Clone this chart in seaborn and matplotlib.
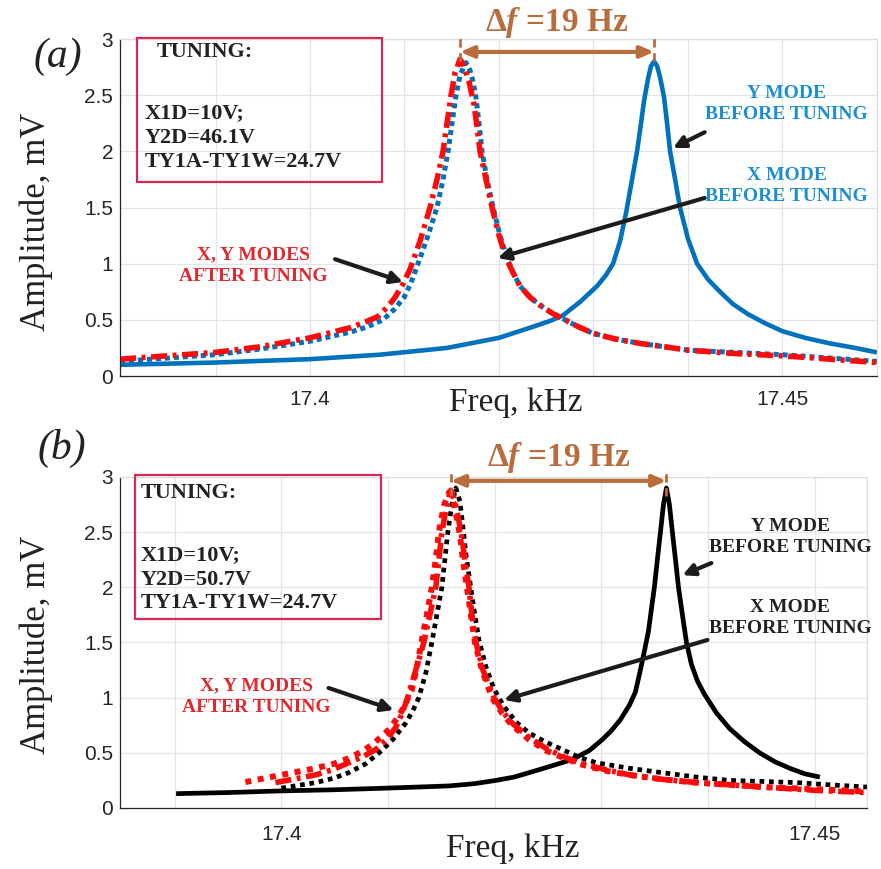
import numpy as np
import matplotlib
matplotlib.use("Agg")
import matplotlib.pyplot as plt
import seaborn as sns
from matplotlib.patches import Rectangle

# ---------------- panel (a): simulated responses (kHz, mV) ----------------
a_y_before_f = [17.37987, 17.38994, 17.40000, 17.40742, 17.41451, 17.42002, 17.42331, 17.42542,
                17.42680, 17.42860, 17.43040, 17.43136, 17.43210, 17.43284, 17.43347, 17.43411,
                17.43464, 17.43506, 17.43538, 17.43581, 17.43612, 17.43644, 17.43676, 17.43708,
                17.43750, 17.43782, 17.43814, 17.43867, 17.43919, 17.44004, 17.44100, 17.44216,
                17.44343, 17.44481, 17.44640, 17.44820, 17.45000, 17.45244, 17.45508, 17.45773,
                17.46006]
a_y_before_amp = [0.10, 0.12, 0.15, 0.19, 0.25, 0.34, 0.43, 0.49, 0.54, 0.66, 0.80, 0.90, 1.00,
                  1.20, 1.45, 1.75, 2.00, 2.25, 2.45, 2.65, 2.76, 2.80, 2.76, 2.66, 2.48, 2.25,
                  2.00, 1.75, 1.50, 1.22, 1.00, 0.86, 0.75, 0.64, 0.55, 0.47, 0.40, 0.34, 0.29,
                  0.25, 0.21]

a_after_f = [17.37987, 17.38994, 17.39470, 17.40000, 17.40424, 17.40583, 17.40720, 17.40826,
             17.40900, 17.40985, 17.41059, 17.41165, 17.41271, 17.41345, 17.41409, 17.41451,
             17.41494, 17.41536, 17.41589, 17.41631, 17.41684, 17.41737, 17.41769, 17.41801,
             17.41864, 17.41928, 17.42002, 17.42076, 17.42150, 17.42225, 17.42331, 17.42436,
             17.42564, 17.42701, 17.42839, 17.42998, 17.43231, 17.43496, 17.43761, 17.44004,
             17.44502, 17.45000, 17.45508, 17.46006]
a_after_amp = [0.15, 0.21, 0.26, 0.34, 0.43, 0.48, 0.53, 0.62, 0.70, 0.82, 0.95, 1.20, 1.50,
               1.75, 2.00, 2.25, 2.50, 2.70, 2.82, 2.76, 2.62, 2.42, 2.22, 2.00, 1.75, 1.50,
               1.25, 1.05, 0.92, 0.80, 0.70, 0.63, 0.56, 0.50, 0.44, 0.38, 0.33, 0.29, 0.26,
               0.23, 0.20, 0.18, 0.15, 0.12]

a_x_mode_f = [17.37987, 17.38994, 17.39470, 17.40000, 17.40424, 17.40614, 17.40773, 17.40900,
              17.40996, 17.41070, 17.41144, 17.41250, 17.41345, 17.41409, 17.41462, 17.41504,
              17.41547, 17.41589, 17.41653, 17.41695, 17.41727, 17.41758, 17.41790, 17.41822,
              17.41875, 17.41939, 17.42013, 17.42087, 17.42150, 17.42225, 17.42331, 17.42436,
              17.42564, 17.42701, 17.42839, 17.42998, 17.43231, 17.43496, 17.43761, 17.44004,
              17.44502, 17.45000, 17.45508, 17.46006]
a_x_mode_amp = [0.13, 0.19, 0.24, 0.31, 0.39, 0.44, 0.50, 0.60, 0.70, 0.83, 1.00, 1.25, 1.50,
                1.75, 2.00, 2.25, 2.50, 2.68, 2.79, 2.72, 2.62, 2.48, 2.25, 2.00, 1.75, 1.50,
                1.25, 1.05, 0.92, 0.80, 0.70, 0.63, 0.56, 0.50, 0.44, 0.38, 0.33, 0.29, 0.26,
                0.23, 0.21, 0.19, 0.16, 0.13]

# ---------------- panel (b): measured responses (kHz, mV) ----------------
b_y_before_f = [17.39013, 17.39502, 17.40000, 17.40489, 17.40987, 17.41570, 17.41805, 17.42011,
                17.42180, 17.42321, 17.42528, 17.42726, 17.42885, 17.43008, 17.43092, 17.43177,
                17.43261, 17.43318, 17.43365, 17.43402, 17.43440, 17.43468, 17.43496, 17.43524,
                17.43553, 17.43581, 17.43609, 17.43637, 17.43665, 17.43694, 17.43722, 17.43759,
                17.43797, 17.43844, 17.43900, 17.43966, 17.44079, 17.44201, 17.44342, 17.44483,
                17.44624, 17.44765, 17.44906, 17.45047]
b_y_before_amp = [0.13, 0.14, 0.155, 0.165, 0.18, 0.20, 0.22, 0.25, 0.28, 0.32, 0.38, 0.44,
                  0.52, 0.62, 0.70, 0.80, 0.93, 1.05, 1.25, 1.42, 1.60, 1.80, 2.00, 2.25, 2.50,
                  2.75, 2.90, 2.75, 2.50, 2.25, 2.00, 1.75, 1.50, 1.30, 1.15, 1.03, 0.86, 0.72,
                  0.60, 0.50, 0.42, 0.36, 0.31, 0.28]

b_x_before_f = [17.40000, 17.40320, 17.40489, 17.40630, 17.40789, 17.40940, 17.41053, 17.41165,
                17.41231, 17.41288, 17.41353, 17.41410, 17.41457, 17.41504, 17.41532, 17.41560,
                17.41598, 17.41635, 17.41673, 17.41701, 17.41729, 17.41767, 17.41805, 17.41852,
                17.41917, 17.41992, 17.42086, 17.42199, 17.42321, 17.42472, 17.42632, 17.42791,
                17.42951, 17.43261, 17.43571, 17.43891, 17.44201, 17.44530, 17.44831, 17.45141,
                17.45489]
b_x_before_amp = [0.18, 0.23, 0.27, 0.32, 0.40, 0.52, 0.63, 0.77, 0.88, 1.00, 1.22, 1.50, 1.75,
                  2.00, 2.25, 2.50, 2.75, 2.90, 2.78, 2.55, 2.30, 2.05, 1.80, 1.52, 1.28, 1.08,
                  0.92, 0.78, 0.68, 0.60, 0.53, 0.46, 0.41, 0.36, 0.32, 0.28, 0.25, 0.24, 0.23,
                  0.21, 0.19]

b_x_after_f = [17.39662, 17.40000, 17.40320, 17.40489, 17.40630, 17.40771, 17.40883, 17.40996,
               17.41100, 17.41165, 17.41222, 17.41269, 17.41316, 17.41363, 17.41410, 17.41447,
               17.41476, 17.41523, 17.41570, 17.41617, 17.41645, 17.41673, 17.41701, 17.41739,
               17.41776, 17.41814, 17.41880, 17.41974, 17.42068, 17.42162, 17.42321, 17.42481,
               17.42632, 17.42791, 17.43026, 17.43261, 17.43571, 17.43891, 17.44201, 17.44511,
               17.45000, 17.45489]
b_x_after_amp = [0.235, 0.30, 0.36, 0.40, 0.45, 0.52, 0.60, 0.70, 0.83, 0.95, 1.07, 1.27, 1.52,
                 1.75, 2.00, 2.25, 2.50, 2.74, 2.86, 2.76, 2.62, 2.48, 2.25, 2.00, 1.75, 1.50,
                 1.25, 1.00, 0.86, 0.75, 0.62, 0.52, 0.46, 0.40, 0.34, 0.30, 0.26, 0.23, 0.21,
                 0.19, 0.17, 0.15]

b_y_after_f = [17.39944, 17.40320, 17.40489, 17.40630, 17.40771, 17.40883, 17.40987, 17.41071,
               17.41128, 17.41184, 17.41259, 17.41335, 17.41391, 17.41447, 17.41476, 17.41504,
               17.41551, 17.41588, 17.41626, 17.41664, 17.41692, 17.41720, 17.41758, 17.41786,
               17.41823, 17.41889, 17.41992, 17.42077, 17.42162, 17.42321, 17.42481, 17.42632,
               17.42791, 17.43026, 17.43261, 17.43571, 17.43891, 17.44201, 17.44511, 17.45000,
               17.45489]
b_y_after_amp = [0.23, 0.30, 0.35, 0.41, 0.47, 0.53, 0.62, 0.73, 0.85, 1.00, 1.25, 1.50, 1.75,
                 2.00, 2.25, 2.50, 2.75, 2.88, 2.78, 2.60, 2.45, 2.25, 2.00, 1.75, 1.50, 1.25,
                 1.00, 0.87, 0.77, 0.64, 0.54, 0.47, 0.41, 0.35, 0.30, 0.26, 0.23, 0.21, 0.19,
                 0.16, 0.14]

x_ticks = [17.39, 17.40, 17.41, 17.42, 17.43, 17.44, 17.45]
x_tick_labels = ["", "17.4", "", "", "", "", "17.45"]
y_ticks = [0, 0.5, 1, 1.5, 2, 2.5, 3]
y_tick_labels = ["0", "0.5", "1", "1.5", "2", "2.5", "3"]

tuning_a = ["TUNING:", "X1D=10V;", "Y2D=46.1V", "TY1A-TY1W=24.7V"]
tuning_b = ["TUNING:", "X1D=10V;", "Y2D=50.7V", "TY1A-TY1W=24.7V"]
delta_label = r"$\mathbf{\Delta}\mathit{f}$ =19 Hz"

# ---------------- style ----------------
sns.set_style("white")
plt.rcParams["font.family"] = ["Liberation Sans", "DejaVu Sans"]
plt.rcParams["mathtext.fontset"] = "custom"
plt.rcParams["mathtext.rm"] = "Liberation Serif:bold"
plt.rcParams["mathtext.bf"] = "Liberation Serif:bold"
plt.rcParams["mathtext.it"] = "Liberation Serif:italic:bold"

SERIF = ["Liberation Serif", "DejaVu Serif"]
BLUE = "#0072BD"
BLUE_TXT = "#1b8fd2"
RED = "#ff0a0a"
RED_TXT = "#e0282e"
BROWN = "#b96d3d"
BOX = "#d42a5a"
ARROW = "#1c1c1c"
AX = "#262626"

fig = plt.figure(figsize=(8.81, 8.69), dpi=100)
ax1 = fig.add_axes([0.1362, 0.5673, 0.8593, 0.3878])
ax2 = fig.add_axes([0.1362, 0.0702, 0.8479, 0.3809])


def style_axes(ax, xlim, xpad):
    ax.set_xlim(*xlim)
    ax.set_ylim(0, 3)
    ax.set_xticks(x_ticks)
    ax.set_xticklabels(x_tick_labels)
    ax.set_yticks(y_ticks)
    ax.set_yticklabels(y_tick_labels)
    ax.grid(True, color="#e4e4e4", lw=0.9)
    ax.set_axisbelow(True)
    for s in ("left", "bottom"):
        ax.spines[s].set_color(AX)
        ax.spines[s].set_linewidth(0.9)
    for s in ("top", "right"):
        ax.spines[s].set_color("#dedede")
        ax.spines[s].set_linewidth(0.9)
    ax.tick_params(axis="both", direction="in", length=6, width=0.9, color=AX,
                   labelcolor=AX, labelsize=15)
    ax.tick_params(axis="x", pad=xpad)
    ax.tick_params(axis="y", pad=5)
    ax.set_xlabel("")
    ax.set_ylabel("")


def curve(ax, f, amp, color, lw, ls):
    sns.lineplot(x=f, y=amp, ax=ax, color=color, lw=lw, estimator=None, sort=False)
    line = ax.get_lines()[-1]
    if ls is not None:
        line.set_dashes(ls)
    line.set_solid_capstyle("butt")
    line.set_solid_joinstyle("round")
    return line


def arrow(ax, tail, head):
    ax.annotate("", xy=head, xytext=tail, xycoords="data", textcoords="data",
                arrowprops=dict(arrowstyle="-|>,head_length=0.7,head_width=0.35",
                                color=ARROW, lw=3.0, shrinkA=0, shrinkB=0),
                annotation_clip=False)


def tuning_box(ax, x0, x1, y0, y1, lines, xs, ys):
    ax.add_patch(Rectangle((x0, y0), x1 - x0, y1 - y0, fill=False, ec=BOX, lw=1.6,
                           clip_on=False, zorder=5))
    for txt, xx, yy in zip(lines, xs, ys):
        ax.text(xx, yy, txt, family=SERIF, weight="bold", fontsize=16, color="#222222",
                ha="left", va="center", clip_on=False, zorder=6)


def delta_marker(ax, f_left, f_right, y_arrow, y_top, y_bot, y_text):
    for fx_ in (f_left, f_right):
        ax.plot([fx_, fx_], [y_bot, y_top], color=BROWN, lw=2.0, dashes=(3, 2),
                clip_on=False, zorder=6)
    ax.annotate("", xy=(f_right, y_arrow), xytext=(f_left, y_arrow),
                arrowprops=dict(arrowstyle="<|-|>,head_length=0.8,head_width=0.35",
                                color=BROWN, lw=3.0, shrinkA=0, shrinkB=0),
                annotation_clip=False, zorder=6)
    ax.text((f_left + f_right) / 2, y_text, delta_label, color=BROWN, fontsize=24,
            weight="bold", family=SERIF, ha="center", va="center", clip_on=False)


def note(ax, x, y, txt, color):
    ax.text(x, y, txt, color=color, family=SERIF, weight="bold", fontsize=14,
            ha="center", va="center", linespacing=1.35)


# ---------------- panel (a) ----------------
style_axes(ax1, (17.37987, 17.46006), 10)
curve(ax1, a_y_before_f, a_y_before_amp, BLUE, 3.3, None)
curve(ax1, a_x_mode_f, a_x_mode_amp, BLUE, 3.6, (1.0, 0.8))
curve(ax1, a_after_f, a_after_amp, RED, 4.0, (2.9, 1.0, 0.7, 1.0))

pk_after_a = a_after_f[int(np.argmax(a_after_amp))]
pk_y_a = a_y_before_f[int(np.argmax(a_y_before_amp))]
delta_marker(ax1, pk_after_a, pk_y_a, 2.885, 3.02, 2.80, 3.15)

tuning_box(ax1, 17.38167, 17.40763, 1.727, 3.005, tuning_a,
           [17.3838, 17.38252, 17.38252, 17.38252], [2.885, 2.342, 2.119, 1.906])

note(ax1, 17.4505, 2.42, "Y MODE\nBEFORE TUNING", BLUE_TXT)
note(ax1, 17.4505, 1.69, "X MODE\nBEFORE TUNING", BLUE_TXT)
note(ax1, 17.394, 0.98, "X, Y MODES\nAFTER TUNING", RED_TXT)
arrow(ax1, (17.4418, 2.17), (17.43845, 2.03))
arrow(ax1, (17.4418, 1.585), (17.41987, 1.05))
arrow(ax1, (17.40265, 1.04), (17.40985, 0.837))

# ---------------- panel (b) ----------------
style_axes(ax2, (17.38487, 17.45489), 12)
curve(ax2, b_y_before_f, b_y_before_amp, "black", 3.4, None)
curve(ax2, b_x_before_f, b_x_before_amp, "black", 3.4, (1.0, 1.0))
curve(ax2, b_x_after_f, b_x_after_amp, RED, 4.3, (1.0, 1.1))
curve(ax2, b_y_after_f, b_y_after_amp, RED, 4.0, (2.9, 1.0, 0.7, 1.0))

pk_after_b = b_y_after_f[int(np.argmax(b_y_after_amp))]
pk_y_b = b_y_before_f[int(np.argmax(b_y_before_amp))]
delta_marker(ax2, pk_after_b, pk_y_b, 2.965, 3.06, 2.83, 3.18)

tuning_box(ax2, 17.38628, 17.4093, 1.713, 3.019, tuning_b,
           [17.38684] * 4, [2.856, 2.294, 2.067, 1.859])

note(ax2, 17.4477, 2.457, "Y MODE\nBEFORE TUNING", "#222222")
note(ax2, 17.4477, 1.72, "X MODE\nBEFORE TUNING", "#222222")
note(ax2, 17.39765, 1.006, "X, Y MODES\nAFTER TUNING", RED_TXT)
arrow(ax2, (17.4403, 2.22), (17.43759, 2.11))
arrow(ax2, (17.43994, 1.523), (17.42086, 0.979))
arrow(ax2, (17.40442, 1.088), (17.41053, 0.888))

# ---------------- figure-level labels ----------------
W, H = 881, 869


def fx(px):
    return px / W


def fy(py):
    return 1 - py / H


for py in (222, 645):
    fig.text(fx(36), fy(py), "Amplitude, mV", family=SERIF, fontsize=25, color="#222222",
             rotation=90, ha="center", va="center")
for px, py in ((516, 403), (513, 849)):
    fig.text(fx(px), fy(py), "Freq, kHz", family=SERIF, fontsize=24, color="#222222",
             ha="center", va="center")
fig.text(fx(58), fy(57), "(a)", family=SERIF, style="italic", fontsize=30,
         color="#222222", ha="center", va="center")
fig.text(fx(62), fy(448), "(b)", family=SERIF, style="italic", fontsize=30,
         color="#222222", ha="center", va="center")

fig.savefig("out.png", dpi=100)
